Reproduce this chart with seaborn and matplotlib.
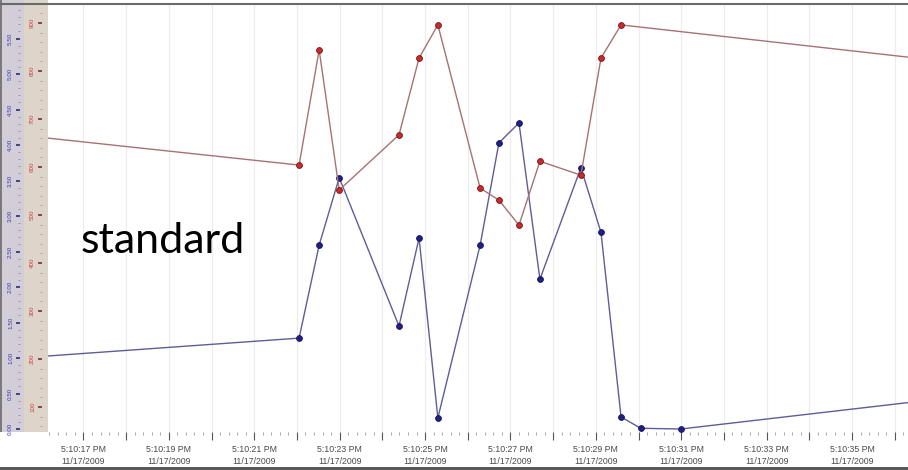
import numpy as np
import pandas as pd
import matplotlib
matplotlib.use("Agg")
import matplotlib.pyplot as plt
import seaborn as sns
from matplotlib.ticker import FixedLocator, MultipleLocator, FuncFormatter
from matplotlib.patches import Rectangle
from matplotlib.lines import Line2D

# ---- data (seconds after 5:10:00 PM) ----
blue_t = [12.0, 22.05, 22.52, 22.99, 24.39, 24.86, 25.30, 26.29, 26.73, 27.20,
          27.69, 28.65, 29.12, 29.59, 30.05, 30.99, 38.0]
blue_v = [0.85, 1.28, 2.59, 3.54, 1.45, 2.69, 0.155, 2.59, 4.03, 4.31,
          2.11, 3.68, 2.77, 0.17, 0.01, 0.0, 0.49]
red_t = [12.0, 22.05, 22.52, 22.99, 24.39, 24.86, 25.30, 26.29, 26.73, 27.20,
         27.69, 28.65, 29.12, 29.59, 38.0]
red_v = [700, 604, 844, 552, 667, 827, 896, 556, 531, 479,
         612, 583, 827, 896, 812]

blue_ticks = [0.0, 0.5, 1.0, 1.5, 2.0, 2.5, 3.0, 3.5, 4.0, 4.5, 5.0, 5.5, 6.0]
blue_labels = ["0.00", "0.50", "1.00", "1.50", "2.00", "2.50", "3.00",
               "3.50", "4.00", "4.50", "5.00", "5.50", "6.00"]
red_ticks = [100, 200, 300, 400, 500, 600, 700, 800, 900]
red_labels = ["100", "200", "300", "400", "500", "600", "700", "800", "900"]
time_prefix = "5:10:"
date_label = "11/17/2009"

sns.set_theme(style="white")
plt.rcParams["font.family"] = ["Liberation Sans", "DejaVu Sans"]

W, H = 908, 470
PX = 72 / 100  # points per pixel
fig = plt.figure(figsize=(W / 100, H / 100), dpi=100)
fig.patch.set_facecolor("white")

# left strip background
fig.add_artist(Rectangle((0, 38 / H), 24 / W, 1 - 38 / H, transform=fig.transFigure,
                         color="#d2cdd6", zorder=-5, lw=0))
fig.add_artist(Rectangle((24 / W, 38 / H), 24 / W, 1 - 38 / H, transform=fig.transFigure,
                         color="#ddd5ca", zorder=-5, lw=0))
fig.add_artist(Rectangle((0, 38 / H), 2 / W, 1 - 38 / H, transform=fig.transFigure,
                         color="#7a7a7a", zorder=-4, lw=0))

ax = fig.add_axes([48 / W, 38 / H, 860 / W, 427 / H])
ax.set_facecolor("white")

bdf = pd.DataFrame({"t": blue_t, "v": blue_v})
rdf = pd.DataFrame({"t": red_t, "v": red_v})

sns.lineplot(data=bdf, x="t", y="v", ax=ax, color="#5d5d98", lw=1.0,
             marker="o", markersize=4.2, markerfacecolor="#1f1f86",
             markeredgecolor="#15155a", markeredgewidth=0.6, sort=False,
             legend=False, zorder=3)

ax.set_xlim(16.17, 36.31)
ax.set_ylim((429 - 432) / 71, (429 - 5) / 71)

ax2 = ax.twinx()
sns.lineplot(data=rdf, x="t", y="v", ax=ax2, color="#a87272", lw=1.0,
             marker="o", markersize=4.2, markerfacecolor="#cc2a2a",
             markeredgecolor="#6a1515", markeredgewidth=0.6, sort=False,
             legend=False, zorder=3)
ax2.set_ylim((455 - 432) / 0.48, (455 - 5) / 0.48)
ax2.set_xlim(16.17, 36.31)

for a in (ax, ax2):
    for s in a.spines.values():
        s.set_visible(False)
    a.set_xlabel("")
    a.set_ylabel("")

# x axis: ruler-like ticks
ax.xaxis.set_major_locator(MultipleLocator(1))
ax.xaxis.set_minor_locator(MultipleLocator(0.2))
ax.xaxis.set_major_formatter(FuncFormatter(
    lambda t, p: (f"{time_prefix}{int(round(t)):02d} PM\n{date_label}"
                  if int(round(t)) % 2 == 1 else "")))
ax.tick_params(axis="x", which="major", direction="out", length=6, width=0.8,
               color="#555555", labelsize=6.3, labelcolor="#4a4a4a", pad=3.5,
               bottom=True)
ax.tick_params(axis="x", which="minor", direction="out", length=2.5, width=0.6,
               color="#9a9a9a", bottom=True)
for lab in ax.get_xticklabels():
    lab.set_linespacing(1.45)
ax.grid(axis="x", which="major", color="#ececec", lw=0.8)
ax.grid(axis="y", visible=False)
ax2.grid(False)

# blue y axis (outer): spine at x=20px
ax.spines["left"].set_position(("outward", 28 * PX))
ax.yaxis.set_major_locator(FixedLocator(blue_ticks))
ax.set_yticklabels(blue_labels)
ax.yaxis.set_minor_locator(MultipleLocator(0.1))
ax.tick_params(axis="y", which="major", direction="out", length=4 * PX, width=1.2,
               color="#2a2a80", labelsize=4.5, labelcolor="#3a3ab0",
               labelrotation=90, pad=3 * PX, left=True)
ax.tick_params(axis="y", which="minor", direction="out", length=2 * PX, width=0.5,
               color="#8080a8", left=True)
for lab in ax.get_yticklabels():
    lab.set_va("center")

# red y axis (inner): spine at x=42px
ax2.yaxis.tick_left()
ax2.spines["left"].set_position(("outward", 6 * PX))
ax2.yaxis.set_major_locator(FixedLocator(red_ticks))
ax2.set_yticklabels(red_labels)
ax2.yaxis.set_minor_locator(MultipleLocator(20))
ax2.tick_params(axis="y", which="major", direction="out", length=4 * PX, width=1.2,
                color="#802a2a", labelsize=4.5, labelcolor="#d04040",
                labelrotation=90, pad=3 * PX, left=True, right=False)
ax2.tick_params(axis="y", which="minor", direction="out", length=2 * PX, width=0.5,
                color="#a88080", left=True, right=False)
for lab in ax2.get_yticklabels():
    lab.set_va("center")

# window borders
fig.add_artist(Line2D([0, 1], [1 - 4 / H, 1 - 4 / H], transform=fig.transFigure,
                      color="#6a6a6a", lw=1.5, zorder=10))
fig.add_artist(Rectangle((0, 0), 1, 3 / H, transform=fig.transFigure,
                         color="#5a5a5a", lw=0, zorder=10))

fig.text(81 / W, 1 - 253 / H, "standard", fontsize=31, family=["Lato", "DejaVu Sans"],
         ha="left", va="baseline", color="black", zorder=11)

fig.savefig("out.png", dpi=100)
